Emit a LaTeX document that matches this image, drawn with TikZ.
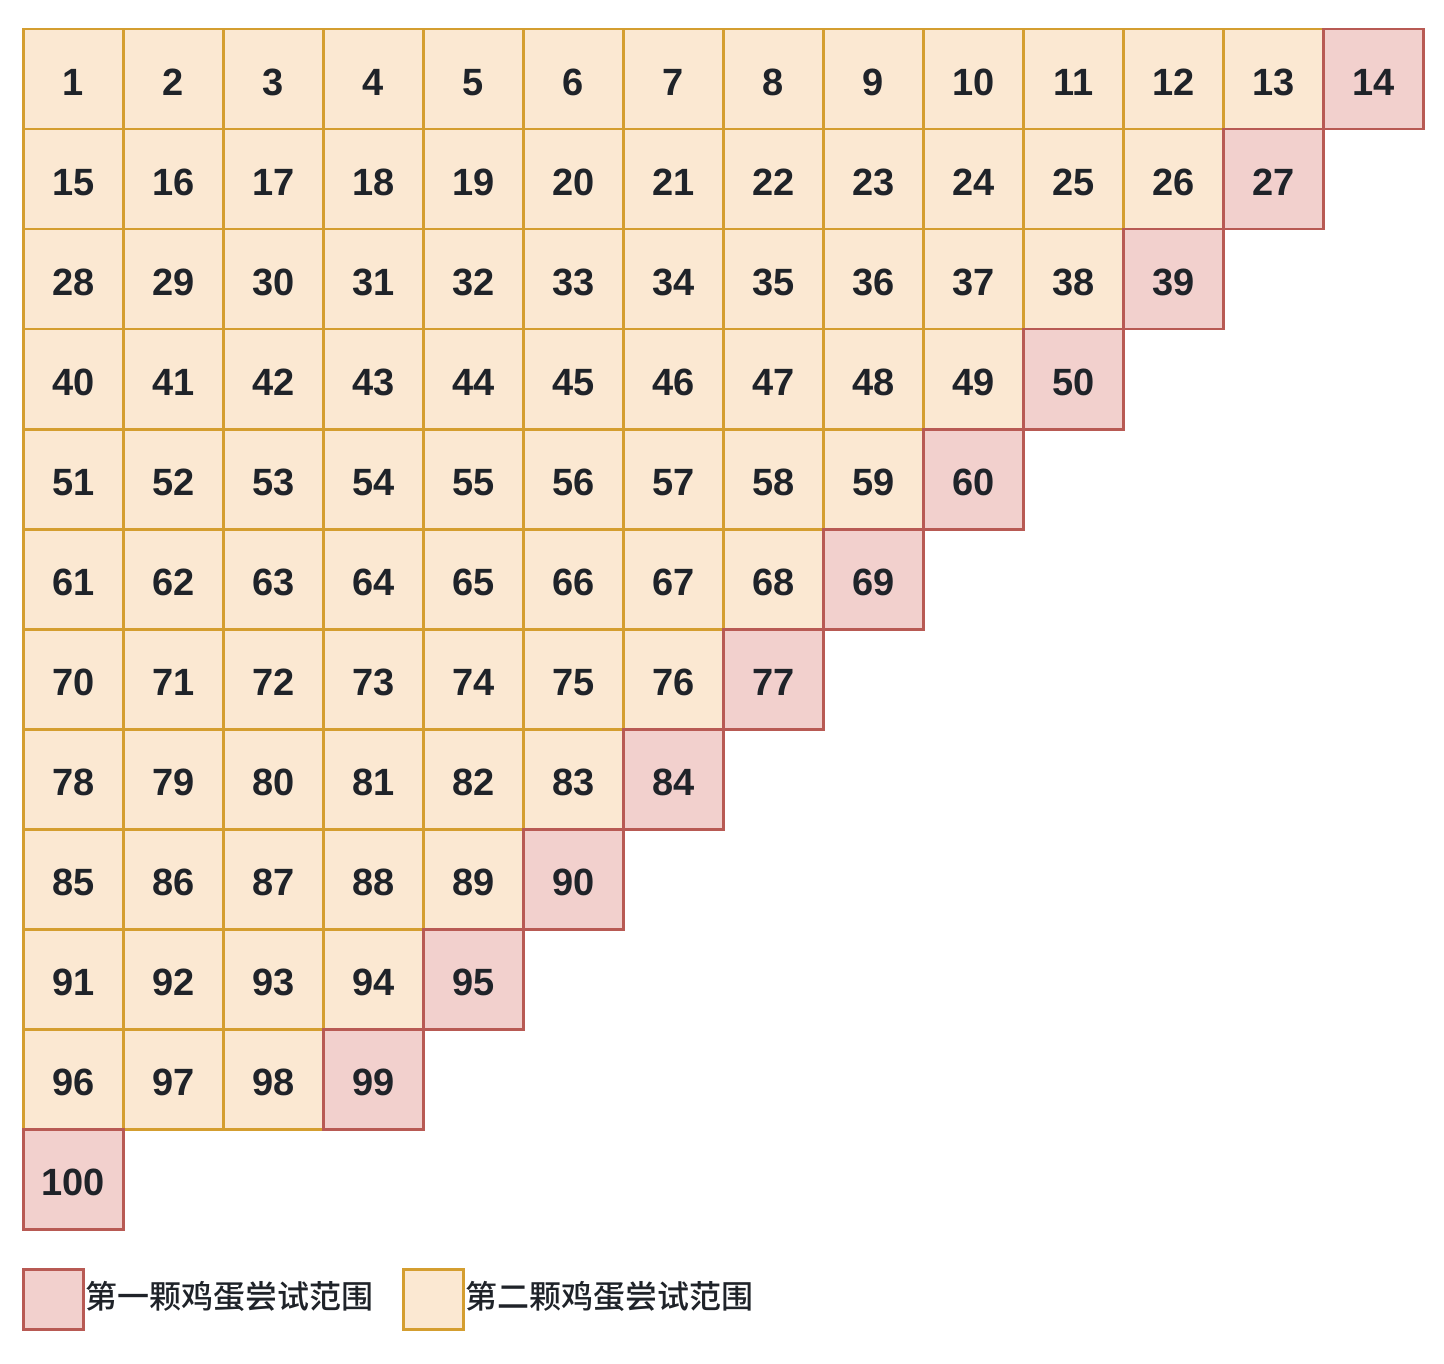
\documentclass[tikz,border=0pt]{standalone}
\usepackage{fontspec}
\setmainfont{Liberation Sans}
\newfontfamily\cjk{Noto Sans CJK SC}[UprightFont=* Medium]
\usetikzlibrary{positioning}
\definecolor{pinkfill}{HTML}{F2D0CD}
\definecolor{pinkline}{HTML}{B85A54}
\definecolor{beigefill}{HTML}{FBE8D2}
\definecolor{beigeline}{HTML}{D49E30}
\definecolor{ink}{HTML}{1F2329}

\begin{document}
\begin{tikzpicture}[x=1pt,y=-1pt,
    cell/.style={draw,line width=2.5pt,minimum size=100pt,inner sep=0pt,anchor=north west,
      text height=32pt,text depth=0pt,text=ink,font=\fontsize{38}{44}\selectfont\bfseries},
    first/.style={cell,fill=pinkfill,draw=pinkline},
    second/.style={cell,fill=beigefill,draw=beigeline},
    key/.style={draw,line width=2.5pt,minimum size=60pt,inner sep=0pt,anchor=north west},
    keytext/.style={inner sep=1pt,yshift=3pt,text=ink,font=\cjk\fontsize{32}{38}\selectfont}]
  \useasboundingbox (0,0) rectangle (1444,1364);
  % floors grid
  \foreach \r in {0,...,10}{
    \pgfmathtruncatemacro\last{13-\r}
    \foreach \c in {0,...,\last}{
      \pgfmathtruncatemacro\n{14*\r-\r*(\r-1)/2+\c+1}
      \ifnum\c=\last
        \node[first] (c\n) at (22+100*\c,28+100*\r) {\n};
      \else
        \node[second] (c\n) at (22+100*\c,28+100*\r) {\n};
      \fi
    }
  }
  \node[first] (c100) at (22,1128) {100};
  % legend
  \node[key,fill=pinkfill,draw=pinkline] (key1) at (22,1268) {};
  \node[keytext,right=0pt of key1] (lab1) {第一颗鸡蛋尝试范围};
  \node[key,fill=beigefill,draw=beigeline] (key2) at (402,1268) {};
  \node[keytext,right=0pt of key2] (lab2) {第二颗鸡蛋尝试范围};
\end{tikzpicture}
\end{document}
